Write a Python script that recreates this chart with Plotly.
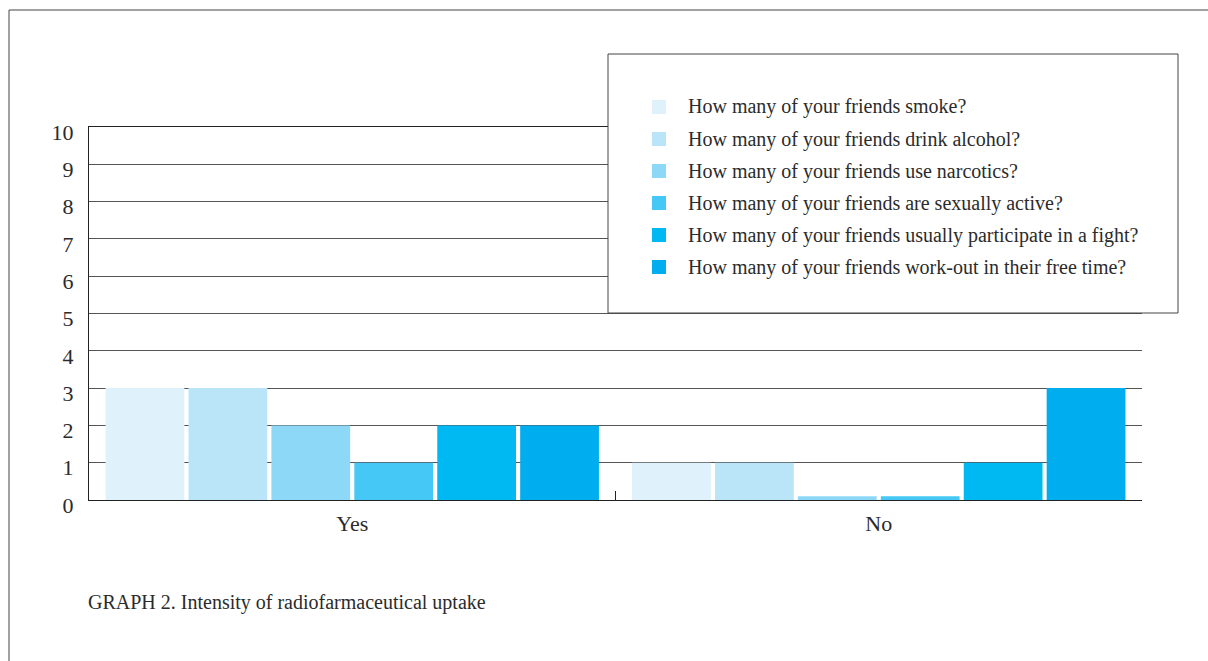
import plotly.graph_objects as go

categories = ["Yes", "No"]
series_names = [
    "How many of your friends smoke?",
    "How many of your friends drink alcohol?",
    "How many of your friends use narcotics?",
    "How many of your friends are sexually active?",
    "How many of your friends usually participate in a fight?",
    "How many of your friends work-out in their free time?",
]
series_values = [
    [3, 1],
    [3, 1],
    [2, 0.1],
    [1, 0.1],
    [2, 1],
    [2, 3],
]
colors = ["#dff1fb", "#bae5f8", "#8ed8f7", "#45c8f5", "#00b9f2", "#00aeef"]
y_ticks = list(range(0, 11))
caption = "GRAPH 2. Intensity of radiofarmaceutical uptake"

FONT = "Liberation Serif"
TXT = "#2b2b2b"

fig = go.Figure()
for name, vals, col in zip(series_names, series_values, colors):
    fig.add_trace(go.Bar(x=categories, y=vals, name=name, marker=dict(color=col, line=dict(width=0)),
                         showlegend=False))

W, H = 1208, 661
ml, mr, mt, mb = 89, 66, 127, 161
pw, ph = W - ml - mr, H - mt - mb

def px(x):
    return (x - ml) / pw

def py(y):
    return (H - mb - y) / ph

shapes = []
# outer frame (left and top)
shapes.append(dict(type="line", xref="paper", yref="paper", x0=px(9), x1=px(9), y0=py(661), y1=py(10),
                   line=dict(color="#444", width=1)))
shapes.append(dict(type="line", xref="paper", yref="paper", x0=px(9), x1=px(1208), y0=py(10), y1=py(10),
                   line=dict(color="#444", width=1)))
# legend box
shapes.append(dict(type="rect", xref="paper", yref="paper", x0=px(608), x1=px(1178), y0=py(313), y1=py(54),
                   fillcolor="white", line=dict(color="#444", width=1), layer="above"))
annotations = []
for i, (name, col) in enumerate(zip(series_names, colors)):
    yc = 107 + 32 * i
    shapes.append(dict(type="rect", xref="paper", yref="paper", x0=px(652), x1=px(666),
                       y0=py(yc + 7), y1=py(yc - 7), fillcolor=col, line=dict(width=0), layer="above"))
    annotations.append(dict(xref="paper", yref="paper", x=px(686), y=py(yc), text=name, showarrow=False,
                            xanchor="left", yanchor="middle", font=dict(family=FONT, size=20, color=TXT)))

annotations.append(dict(xref="paper", yref="paper", x=px(86), y=py(602), text=caption, showarrow=False,
                        xanchor="left", yanchor="middle", font=dict(family=FONT, size=20, color=TXT)))

fig.update_layout(
    width=W, height=H,
    margin=dict(l=ml, r=mr, t=mt, b=mb),
    paper_bgcolor="white", plot_bgcolor="white",
    barmode="group", bargap=0.055, bargroupgap=0.05,
    shapes=shapes, annotations=annotations,
    font=dict(family=FONT, color=TXT),
    xaxis=dict(showline=True, mirror=True, linecolor="#222", linewidth=1.2, ticks="inside", tickson="boundaries",
               ticklen=9, tickcolor="#222", tickfont=dict(family=FONT, size=22, color=TXT),
               ticklabelstandoff=3, showgrid=False),
    yaxis=dict(range=[0, 10], tickvals=y_ticks, showline=True, linecolor="#222", linewidth=1,
               showgrid=True, gridcolor="#555", gridwidth=1, zeroline=False, ticks="",
               ticklabelstandoff=10, ticklabelshift=5, tickfont=dict(family=FONT, size=22, color=TXT)),
)

fig.write_html("out.html")
